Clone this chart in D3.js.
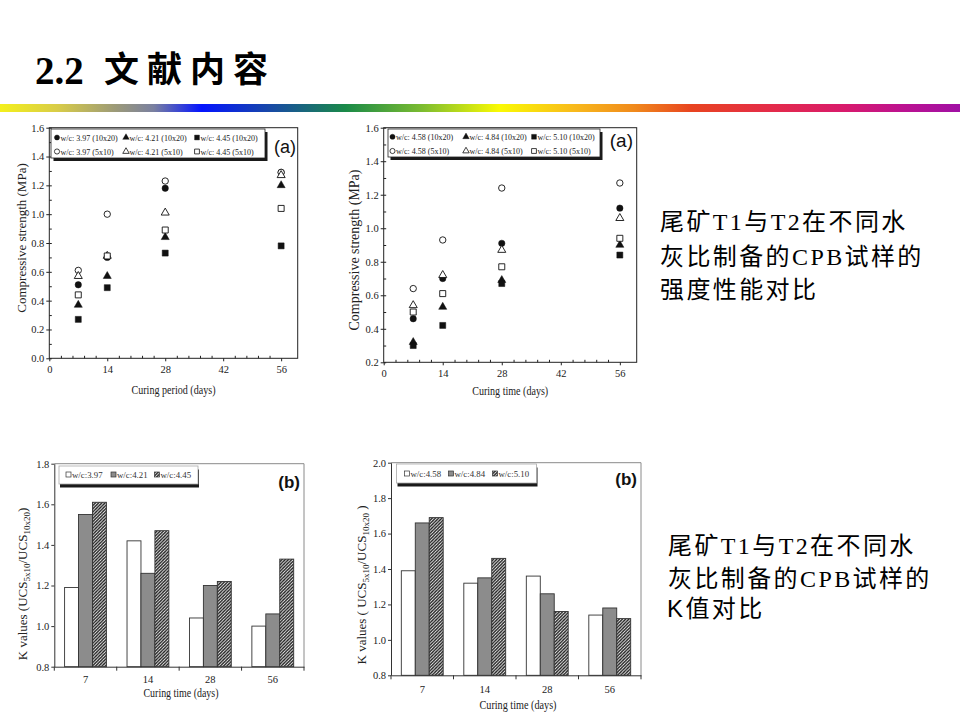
<!DOCTYPE html>
<html><head><meta charset="utf-8">
<script src="https://cdn.jsdelivr.net/npm/d3@7/dist/d3.min.js"></script>
<style>body{margin:0;background:#fff}</style>
</head><body>
<svg id="c" width="960" height="720"></svg>
<script>
// ---------- DATA ----------
const days = [7, 14, 28, 56];
// Scatter 1 (tailings T1)
const s1_397_10x20 = [0.51, 0.70, 1.18, 1.29];
const s1_421_10x20 = [0.37, 0.57, 0.84, 1.20];
const s1_445_10x20 = [0.27, 0.49, 0.73, 0.78];
const s1_397_5x10  = [0.61, 1.00, 1.23, 1.29];
const s1_421_5x10  = [0.57, 0.71, 1.01, 1.27];
const s1_445_5x10  = [0.44, 0.71, 0.89, 1.04];
const s1Names = ["w/c: 3.97 (10x20)", "w/c: 4.21 (10x20)", "w/c: 4.45 (10x20)",
                 "w/c: 3.97 (5x10)", "w/c: 4.21 (5x10)", "w/c: 4.45 (5x10)"];
// Scatter 2 (tailings T2)
const s2_458_10x20 = [0.46, 0.70, 0.91, 1.12];
const s2_484_10x20 = [0.32, 0.53, 0.69, 0.90];
const s2_510_10x20 = [0.30, 0.42, 0.67, 0.84];
const s2_458_5x10  = [0.64, 0.93, 1.24, 1.27];
const s2_484_5x10  = [0.54, 0.72, 0.87, 1.06];
const s2_510_5x10  = [0.50, 0.61, 0.77, 0.94];
const s2Names = ["w/c: 4.58 (10x20)", "w/c: 4.84 (10x20)", "w/c: 5.10 (10x20)",
                 "w/c: 4.58 (5x10)", "w/c: 4.84 (5x10)", "w/c: 5.10 (5x10)"];
// K values
const kCats = ["7", "14", "28", "56"];
const k1_397 = [1.19, 1.42, 1.04, 1.00];
const k1_421 = [1.55, 1.26, 1.20, 1.06];
const k1_445 = [1.61, 1.47, 1.22, 1.33];
const k1Names = ["w/c:3.97", "w/c:4.21", "w/c:4.45"];
const k2_458 = [1.39, 1.32, 1.36, 1.14];
const k2_484 = [1.66, 1.35, 1.26, 1.18];
const k2_510 = [1.69, 1.46, 1.16, 1.12];
const k2Names = ["w/c:4.58", "w/c:4.84", "w/c:5.10"];
// axis ticks
const xTicksScatter = [0, 14, 28, 42, 56];
const yTicks1 = [0.0, 0.2, 0.4, 0.6, 0.8, 1.0, 1.2, 1.4, 1.6];
const yTicks2 = [0.2, 0.4, 0.6, 0.8, 1.0, 1.2, 1.4, 1.6];
const yTicksK1 = [0.8, 1.0, 1.2, 1.4, 1.6, 1.8];
const yTicksK2 = [0.8, 1.0, 1.2, 1.4, 1.6, 1.8, 2.0];
// texts
const title = "2.2";
const titleCJK = "文献内容";
const note1 = ["尾矿T1与T2在不同水", "灰比制备的CPB试样的", "强度性能对比"];
const note2 = ["尾矿T1与T2在不同水", "灰比制备的CPB试样的", "K值对比"];

// ---------- SETUP ----------
const SERIF = '"Liberation Serif","Times New Roman",serif';
const svg = d3.select('#c');
svg.append('rect').attr('width', 960).attr('height', 720).attr('fill', '#fff');
const defs = svg.append('defs');
const grad = defs.append('linearGradient').attr('id', 'rb').attr('x1', 0).attr('x2', 1).attr('y1', 0).attr('y2', 0);
[[0, '#f4f01c'], [0.06, '#d8cc48'], [0.12, '#9c9a78'], [0.16, '#7a80a0'], [0.21, '#0414ff'],
 [0.28, '#1848a8'], [0.36, '#1a8a48'], [0.44, '#7cbc30'], [0.52, '#fafa04'], [0.6, '#f8b81c'],
 [0.66, '#f08a1c'], [0.72, '#e84420'], [0.8, '#e42c48'], [0.88, '#d81a6c'], [0.94, '#bc1290'], [1, '#a010a4']]
  .forEach(([o, c]) => grad.append('stop').attr('offset', o).attr('stop-color', c));
const pat = defs.append('pattern').attr('id', 'hatch').attr('patternUnits', 'userSpaceOnUse')
  .attr('width', 3.2).attr('height', 3.2);
pat.append('rect').attr('width', 3.2).attr('height', 3.2).attr('fill', '#fff');
pat.append('path').attr('d', 'M-1,1 l2,-2 M0,3.2 l3.2,-3.2 M2.2,4.2 l2,-2')
  .attr('stroke', '#1a1a1a').attr('stroke-width', 1.35);

// ---------- TITLE ----------
svg.append('text').attr('x', 35).attr('y', 84).attr('font-family', SERIF).attr('font-weight', 700)
  .attr('font-size', 39).attr('fill', '#000').text(title);
svg.append('text').attr('x', 104).attr('y', 82).attr('font-family', '"Noto Sans CJK SC"').attr('font-weight', 700)
  .attr('font-size', 35).attr('letter-spacing', 8).attr('fill', '#000').text(titleCJK);
svg.append('rect').attr('x', 0).attr('y', 104).attr('width', 960).attr('height', 8).attr('fill', 'url(#rb)');

// ---------- NOTES ----------
function note(lines, xs, ys) {
  lines.forEach((t, i) => {
    svg.append('text').attr('x', xs[i]).attr('y', ys[i])
      .attr('font-family', i === 2 && t[0] === 'K' ? '"Liberation Sans","Noto Sans CJK SC"' : SERIF + ',"Noto Sans CJK SC"')
      .attr('font-size', 24).attr('letter-spacing', 2.4).attr('fill', '#000').text(t);
  });
}
note(note1, [660, 660, 660], [230, 265, 298]);
note(note2, [668, 668, 667], [554, 587, 617]);

// ---------- SCATTER ----------
function scatter(o) {
  const g = svg.append('g');
  const x = d3.scaleLinear().domain([0, 60]).range([o.l, o.r]);
  const y = d3.scaleLinear().domain(o.yd).range([o.b, o.t]);
  // minor ticks (inward)
  const xMinor = d3.range(0, 57, 2.8).filter(v => Math.abs(v / 14 - Math.round(v / 14)) > 0.01);
  const yMinor = d3.range(Math.round(o.yd[0] * 10), Math.round(o.yd[1] * 10) + 1).map(v => v / 10);
  g.append('g').attr('transform', `translate(0,${o.b})`)
    .call(d3.axisBottom(x).tickValues(xMinor).tickSize(-2.5).tickFormat('').tickSizeOuter(0))
    .call(a => a.select('.domain').remove()).selectAll('line').attr('stroke', '#222');
  g.append('g').attr('transform', `translate(${o.l},0)`)
    .call(d3.axisLeft(y).tickValues(yMinor).tickSize(-2.5).tickFormat('').tickSizeOuter(0))
    .call(a => a.select('.domain').remove()).selectAll('line').attr('stroke', '#222');
  // major
  const xa = g.append('g').attr('transform', `translate(0,${o.b})`)
    .call(d3.axisBottom(x).tickValues(xTicksScatter).tickSize(3).tickPadding(4).tickSizeOuter(0));
  const ya = g.append('g').attr('transform', `translate(${o.l},0)`)
    .call(d3.axisLeft(y).tickValues(o.yt).tickSize(3).tickPadding(2).tickFormat(d3.format('.1f')).tickSizeOuter(0));
  [xa, ya].forEach(a => {
    a.select('.domain').remove();
    a.selectAll('line').attr('stroke', '#222');
    a.selectAll('text').attr('font-family', SERIF).attr('font-size', 10.5).attr('fill', '#222');
  });
  g.append('rect').attr('x', o.l).attr('y', o.t).attr('width', o.r - o.l).attr('height', o.b - o.t)
    .attr('fill', 'none').attr('stroke', '#222').attr('stroke-width', 1);
  // titles
  g.append('text').attr('x', (o.l + o.r) / 2 + o.xtdx).attr('y', o.xty).attr('text-anchor', 'middle')
    .attr('font-family', SERIF).attr('font-size', 13).attr('fill', '#222')
    .attr('textLength', o.xtw).attr('lengthAdjust', 'spacingAndGlyphs').text(o.xtitle);
  g.append('text').attr('transform', `translate(${o.ytx},${o.yty}) rotate(-90)`).attr('text-anchor', 'middle')
    .attr('font-family', SERIF).attr('font-size', o.yfs).attr('fill', '#222').text('Compressive strength (MPa)');
  // series
  const shapes = [d3.symbolCircle, d3.symbolTriangle, d3.symbolSquare];
  const sizes = [32, 28, 36];
  [0, 1, 2, 3, 4, 5].forEach(si => {
    const vals = o.series[si];
    const k = si % 3, filled = si < 3;
    g.append('g').selectAll('path').data(vals).join('path')
      .attr('transform', (v, i) => `translate(${x(days[i])},${y(v)})`)
      .attr('d', d3.symbol().type(shapes[k]).size(sizes[k]))
      .attr('fill', filled ? '#111' : '#fff').attr('stroke', '#111').attr('stroke-width', filled ? 0.5 : 0.9);
  });
  // legend
  const L = o.leg;
  g.append('rect').attr('x', L.x + 2.5).attr('y', L.y + 3).attr('width', L.w).attr('height', L.h).attr('fill', '#1a1a1a');
  g.append('rect').attr('x', L.x).attr('y', L.y).attr('width', L.w).attr('height', L.h)
    .attr('fill', '#fff').attr('stroke', '#222').attr('stroke-width', 0.8);
  o.names.forEach((n, si) => {
    const k = si % 3, row = si < 3 ? 0 : 1;
    const mx = L.cols[k], my = L.rows[row];
    g.append('path').attr('transform', `translate(${mx},${my})`)
      .attr('d', d3.symbol().type(shapes[k]).size(sizes[k] * 0.65))
      .attr('fill', row === 0 ? '#111' : '#fff').attr('stroke', '#111').attr('stroke-width', row === 0 ? 0.4 : 0.8);
    g.append('text').attr('x', mx + 3.5).attr('y', my + 3).attr('font-family', SERIF).attr('font-size', 8)
      .attr('fill', '#222').text(n);
  });
  g.append('text').attr('x', o.ax).attr('y', o.ay).attr('text-anchor', 'end')
    .attr('font-family', '"Liberation Sans",Arial,sans-serif').attr('font-size', o.afs).attr('fill', '#111').text('(a)');
}

scatter({
  l: 49.3, r: 297.7, t: 127.7, b: 358.3, yd: [0, 1.6], yt: yTicks1,
  series: [s1_397_10x20, s1_421_10x20, s1_445_10x20, s1_397_5x10, s1_421_5x10, s1_445_5x10],
  names: s1Names, xtitle: 'Curing period (days)', xtw: 84, xty: 394, xtdx: 0,
  ytx: 26, yty: 238, yfs: 13,
  leg: { x: 51, y: 129, w: 214, h: 29, cols: [57, 126, 197], rows: [137.5, 151.5] },
  ax: 296, ay: 153, afs: 18
});
scatter({
  l: 383.7, r: 636.7, t: 127.7, b: 362.3, yd: [0.2, 1.6], yt: yTicks2,
  series: [s2_458_10x20, s2_484_10x20, s2_510_10x20, s2_458_5x10, s2_484_5x10, s2_510_5x10],
  names: s2Names, xtitle: 'Curing time (days)', xtw: 76, xty: 395, xtdx: 0,
  ytx: 359, yty: 250, yfs: 14,
  leg: { x: 388, y: 129, w: 212, h: 28, cols: [392.5, 466, 534], rows: [136.8, 151] },
  ax: 633, ay: 147, afs: 19
});

// ---------- BARS ----------
function bars(o) {
  const g = svg.append('g');
  const x = d3.scaleBand().domain(kCats).range([o.l, o.r]).paddingInner(0.33).paddingOuter(0.165);
  const xs = d3.scaleBand().domain([0, 1, 2]).range([0, x.bandwidth()]);
  const y = d3.scaleLinear().domain(o.yd).range([o.b, o.t]);
  g.append('path').attr('d', `M${o.l},${o.t}H${o.r}V${o.b}`).attr('fill', 'none').attr('stroke', '#8a8a8a').attr('stroke-width', 1);
  const fills = ['#fff', '#8c8c8c', 'url(#hatch)'];
  o.series.forEach((vals, si) => {
    g.append('g').selectAll('rect').data(vals).join('rect')
      .attr('x', (v, i) => x(kCats[i]) + xs(si)).attr('y', v => y(v))
      .attr('width', xs.bandwidth()).attr('height', v => y(o.yd[0]) - y(v))
      .attr('fill', fills[si]).attr('stroke', '#333').attr('stroke-width', 0.9);
  });
  const ya = g.append('g').attr('transform', `translate(${o.l},0)`)
    .call(d3.axisLeft(y).tickValues(o.yt).tickSize(3).tickPadding(2).tickFormat(d3.format('.1f')).tickSizeOuter(0));
  const xa = g.append('g').attr('transform', `translate(0,${o.b})`)
    .call(d3.axisBottom(x).tickSize(0).tickPadding(o.xpad).tickSizeOuter(0));
  const gap = (x.step() - x.bandwidth()) / 2;
  g.append('g').selectAll('line').data(kCats.concat(['end'])).join('line')
    .attr('x1', (c, i) => i < kCats.length ? x(c) - gap : x(kCats[kCats.length - 1]) + x.bandwidth() + gap)
    .attr('x2', (c, i) => i < kCats.length ? x(c) - gap : x(kCats[kCats.length - 1]) + x.bandwidth() + gap)
    .attr('y1', o.b).attr('y2', o.b + 4).attr('stroke', '#333');
  [xa, ya].forEach(a => {
    a.select('.domain').attr('stroke', '#333');
    a.selectAll('line').attr('stroke', '#333');
    a.selectAll('text').attr('font-family', SERIF).attr('font-size', 10.5).attr('fill', '#222');
  });
  g.append('text').attr('x', o.xtx).attr('y', o.xty).attr('text-anchor', 'middle')
    .attr('font-family', SERIF).attr('font-size', 13).attr('fill', '#222')
    .attr('textLength', o.xtw).attr('lengthAdjust', 'spacingAndGlyphs').text('Curing time (days)');
  const t = g.append('text').attr('transform', `translate(${o.ytx},${o.yty}) rotate(-90)`).attr('text-anchor', 'middle')
    .attr('font-family', SERIF).attr('font-size', 13).attr('fill', '#222');
  t.append('tspan').text(o.sp ? 'K values ( UCS' : 'K values (UCS');
  t.append('tspan').attr('font-size', 9).attr('dy', 3).text('5x10');
  t.append('tspan').attr('dy', -3).text('/UCS');
  t.append('tspan').attr('font-size', 9).attr('dy', 3).text('10x20');
  t.append('tspan').attr('dy', -3).text(o.sp ? ' )' : ')');
  const L = o.leg;
  g.append('rect').attr('x', L.x + 1).attr('y', L.y + 3.5).attr('width', L.w).attr('height', L.h).attr('fill', '#1a1a1a');
  g.append('rect').attr('x', L.x).attr('y', L.y).attr('width', L.w).attr('height', L.h)
    .attr('fill', '#fff').attr('stroke', '#aaa').attr('stroke-width', 0.8);
  o.names.forEach((n, si) => {
    g.append('rect').attr('x', L.cols[si] - 2.5).attr('y', L.ty - 6).attr('width', 5).attr('height', 5)
      .attr('fill', fills[si]).attr('stroke', '#333').attr('stroke-width', 0.7);
    g.append('text').attr('x', L.cols[si] + 3.5).attr('y', L.ty).attr('font-family', SERIF).attr('font-size', 8.8)
      .attr('fill', '#333').text(n);
  });
  g.append('text').attr('x', o.bx).attr('y', o.by).attr('text-anchor', 'end')
    .attr('font-family', '"Liberation Sans",Arial,sans-serif').attr('font-weight', 700)
    .attr('font-size', 17).attr('fill', '#111').text('(b)');
}

bars({
  l: 54.3, r: 304, t: 463.7, b: 666.7, yd: [0.8, 1.8], yt: yTicksK1,
  series: [k1_397, k1_421, k1_445], names: k1Names, xpad: 9,
  xtx: 181, xty: 697, xtw: 75, ytx: 27, yty: 584, sp: false,
  leg: { x: 59, y: 466, w: 139, h: 18, cols: [68.5, 113.5, 157], ty: 478 },
  bx: 300, by: 488
});
bars({
  l: 391, r: 641, t: 462.7, b: 675.3, yd: [0.8, 2.0], yt: yTicksK2,
  series: [k2_458, k2_484, k2_510], names: k2Names, xpad: 10,
  xtx: 518, xty: 709, xtw: 77, ytx: 366, yty: 585, sp: true,
  leg: { x: 396.5, y: 464, w: 140, h: 19, cols: [407, 451, 495], ty: 477 },
  bx: 637, by: 485
});
</script>
</body></html>
